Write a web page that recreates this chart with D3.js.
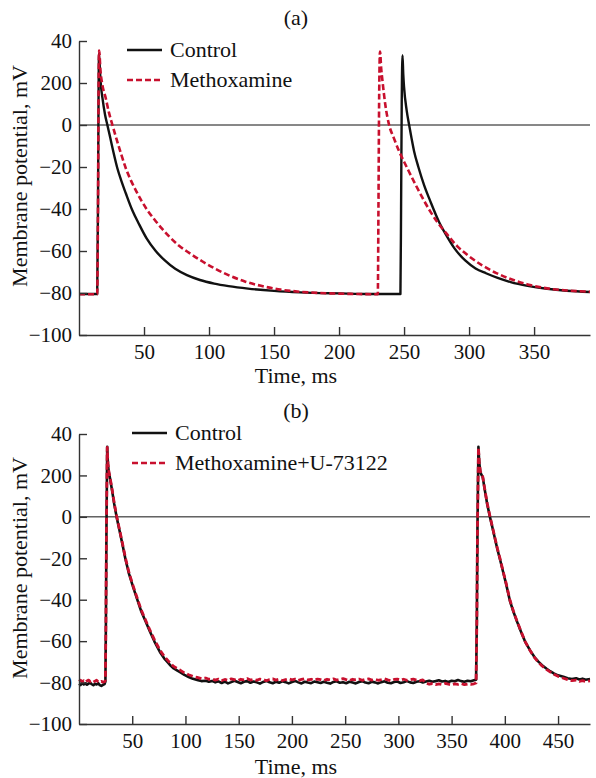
<!DOCTYPE html>
<html>
<head>
<meta charset="utf-8">
<script src="https://cdn.jsdelivr.net/npm/d3@7"></script>
<style>
body { margin: 0; background: #fff; }
svg text { font-family: "Liberation Serif", "Times New Roman", serif; fill: #111; }
</style>
</head>
<body>
<div id="chart"></div>
<script>
// y ticks are shared by both panels ("200" is printed that way in the original)
var yTicks = [40, 20, 0, -20, -40, -60, -80, -100];
var yTickLabels = ["40", "200", "0", "\u221220", "\u221240", "\u221260", "\u221280", "\u2212100"];
var xTicksA = [50, 100, 150, 200, 250, 300, 350];
var xTicksB = [50, 100, 150, 200, 250, 300, 350, 400, 450];

var legendA = ["Control", "Methoxamine"];
var legendB = ["Control", "Methoxamine+U-73122"];

// panel (a): [time ms, potential mV]
var controlA = [
  [0,-80.5],[14.0,-80.5],[14.6,-40],[15.0,10],[15.4,34],[16.2,25],[17,18],[18,13],[20,5],[21.8,0],
  [24,-6],[26.5,-13],[29.5,-20.6],[32.5,-26.5],[36,-32.5],[41,-40.6],[46,-47],[52,-54],[59,-60],
  [66,-64.5],[74,-68.5],[83,-71.5],[93,-73.8],[104,-75.5],[115,-76.7],[130,-77.9],[150,-79],
  [170,-79.7],[200,-80.2],[225,-80.5],[247.2,-80.5],[247.7,-40],[248.2,10],[248.8,33.2],[249.4,24],
  [250,18],[252,7],[253.9,0],[255.8,-6.5],[257.7,-12.5],[261,-20],[265.4,-28.6],[270,-36],[277,-46.3],
  [282,-52],[288.5,-58.5],[297,-64.5],[305,-68.3],[313,-70.6],[322,-72.8],[332,-74.8],[345,-76.6],
  [360,-78],[375,-78.9],[393,-79.5]
];
var methoxA = [
  [0,-80.6],[14.0,-80.6],[14.6,-40],[15.0,10],[15.5,35.5],[16.5,26],[18,19],[20.5,13],[23,6],[25.7,0],
  [29,-7],[32.5,-14],[36,-20.6],[40,-26.5],[44,-31.5],[48,-36],[52.6,-40.6],[58,-45],[64,-49.5],
  [70,-53.5],[77,-57.5],[85,-61],[95,-65],[105,-68.5],[116,-71.8],[128,-74.6],[140,-76.6],[155,-78.4],
  [170,-79.4],[185,-80],[200,-80.3],[215,-80.5],[229.8,-80.6],[230.3,-40],[230.8,10],[231.5,35],
  [232.4,27],[233.4,21],[235.5,10],[238.5,0],[242,-6],[246.2,-12.5],[250,-17.5],[254,-22.5],
  [259,-28.6],[264,-34.5],[270,-41],[275.7,-46.3],[283,-52],[291,-57.8],[300,-62.5],[310,-66.8],
  [321,-70.5],[333,-73.6],[345,-75.9],[360,-77.8],[375,-78.8],[393,-79.4]
];

// panel (b)
var controlB = [
  [0,-80.6],[1.5,-81.2],[3,-80.2],[4.5,-80.9],[6,-80.4],[7.5,-81],[9,-80.5],[10.5,-80.1],[12,-80.8],
  [13.5,-81.3],[15,-80.6],[16.5,-80.9],[18,-80.3],[19.5,-81.2],[21,-81.6],[22.5,-81.1],[24,-80.7],
  [24.8,-79.5],[25.3,-50],[25.8,-5],[26.5,33.8],[27.2,25.5],[28,21.5],[29,19],[31,13],[33,6.5],
  [35.3,0],[38,-6.5],[40.5,-12.5],[43.7,-20.6],[47,-27.5],[51,-34.2],[55.3,-40.8],[58.5,-45.7],
  [62.5,-50.4],[66.5,-55.2],[70.9,-60.2],[76,-65.2],[80,-68.3],[83.4,-70.3],[86,-71.8],[89,-73.2],
  [92,-74.1],[95.3,-75.1],[99,-76.3],[103,-77.3],[107,-78.2],[111,-78.7],[115,-79.3],[119,-79.1],
  [122,-79.6],[125,-79.2],[128,-79.9],[131,-79.4],[134,-80.2],[137,-79.5],[140,-80.4],[143,-79.8],
  [146,-79.1],[149,-79.7],[152,-80.3],[155,-79.6],[158,-79.3],[161,-80.1],[164,-79.5],[167,-79.9],
  [170,-80.5],[173,-79.7],[176,-79.2],[179,-79.9],[182,-80.3],[185,-79.6],[188,-80.1],[191,-79.4],
  [194,-79.8],[197,-80.4],[200,-79.7],[203,-79.2],[206,-79.9],[209,-80.4],[212,-79.6],[215,-80],
  [218,-80.3],[221,-79.5],[224,-79.8],[227,-80.2],[230,-79.6],[233,-80.1],[236,-80.5],[239,-79.7],
  [242,-79.4],[245,-80.1],[248,-79.8],[251,-80.3],[254,-79.6],[257,-80],[260,-80.4],[263,-79.7],
  [266,-79.3],[269,-80],[272,-80.3],[275,-79.6],[278,-79.9],[281,-80.4],[284,-79.8],[287,-79.4],
  [290,-80.1],[293,-80.3],[296,-79.7],[299,-79.5],[302,-80.2],[305,-79.8],[308,-79.3],[311,-79.9],
  [314,-80.2],[317,-79.6],[320,-79.4],[323,-80],[326,-79.5],[329,-79.1],[332,-79.6],[335,-79.3],
  [338,-78.9],[341,-79.5],[344,-79.2],[347,-79.7],[350,-79.1],[353,-79.4],[356,-78.8],[359,-79.3],
  [362,-79.6],[365,-79.1],[368,-79.4],[371,-78.9],[373,-78.6],[373.7,-50],[374.3,-5],[375.2,33.8],
  [376,26],[377,21.5],[379.3,19],[381,13.5],[383.5,6],[386,0],[388.5,-5.5],[391,-11.2],[393,-15.6],
  [395.5,-20.6],[398,-25.8],[401,-32],[404.9,-40.8],[408,-45.7],[411.2,-50.2],[415,-55.2],[419,-60.2],
  [424,-64.7],[428,-67.8],[431.5,-69.9],[435,-71.6],[439,-73.2],[442.5,-74.5],[446,-75.6],[450,-76.5],
  [455,-77.2],[459,-77.9],[463,-78.3],[467,-77.9],[470,-78.5],[473,-78.1],[476,-78.6],[480,-78.3]
];
var methoxUB = [
  [0,-79.4],[1.5,-78.9],[3,-79.6],[4.5,-79.1],[6,-79.8],[7.5,-79.2],[9,-78.8],[10.5,-79.5],[12,-79.1],
  [13.5,-79.7],[15,-79.3],[16.5,-78.9],[18,-79.6],[19.5,-79.9],[21,-79.4],[22.5,-79.8],[24,-79.6],
  [24.8,-78.8],[25.3,-49],[25.8,-4],[26.5,33.5],[27.2,25.8],[28,22],[29,19.4],[31,13.6],[33,7],
  [35.3,0.5],[38,-6],[40.5,-12],[43.7,-20],[47,-27],[51,-33.6],[55.3,-40.2],[58.5,-45],[62.5,-49.8],
  [66.5,-54.5],[70.9,-59.4],[76,-64.3],[80,-67.3],[83.4,-69.3],[86,-70.8],[89,-72.2],[92,-73.2],
  [95.3,-74.1],[99,-75.3],[103,-76.2],[107,-77],[111,-77.5],[115,-78.1],[119,-77.8],[122,-78.4],
  [125,-78.2],[128,-78.8],[131,-78.3],[134,-79],[137,-78.5],[140,-78.9],[143,-78.2],[146,-78.6],
  [149,-79.1],[152,-78.4],[155,-78.7],[158,-78.1],[161,-78.8],[164,-78.4],[167,-78.9],[170,-78.3],
  [173,-78.6],[176,-79.1],[179,-78.5],[182,-78.2],[185,-78.8],[188,-78.4],[191,-79],[194,-78.6],
  [197,-78.2],[200,-78.7],[203,-78.3],[206,-78.9],[209,-78.5],[212,-78.1],[215,-78.7],[218,-78.4],
  [221,-78.9],[224,-78.3],[227,-78.6],[230,-79],[233,-78.4],[236,-78.7],[239,-78.2],[242,-78.8],
  [245,-78.5],[248,-78.1],[251,-78.6],[254,-79],[257,-78.4],[260,-78.7],[263,-78.3],[266,-78.9],
  [269,-78.5],[272,-78.2],[275,-78.8],[278,-78.4],[281,-78.9],[284,-78.6],[287,-78.2],[290,-78.7],
  [293,-79.1],[296,-78.5],[299,-78.3],[302,-78.8],[305,-78.4],[308,-78.9],[311,-78.6],[314,-78.3],
  [317,-78.8],[320,-79.1],[323,-78.7],[326,-80.2],[329,-80.8],[332,-80.5],[335,-81],[338,-80.6],
  [341,-80.9],[344,-80.4],[347,-80.8],[350,-81.1],[353,-80.6],[356,-80.9],[359,-80.5],[362,-81],
  [365,-80.7],[368,-80.9],[371,-80.6],[373,-80.2],[373.7,-51],[374.3,-6],[375.2,33.5],[376,26.3],
  [377,22],[379.3,19.3],[381,13.8],[383.5,6.4],[386,0.4],[388.5,-5.2],[391,-10.8],[393,-15.2],
  [395.5,-20.2],[398,-25.4],[401,-31.6],[404.9,-40.4],[408,-45.4],[411.2,-50],[415,-55],[419,-60.1],
  [424,-64.8],[428,-68],[431.5,-70.2],[435,-72],[439,-73.6],[442.5,-74.8],[446,-76],[450,-77],
  [455,-77.9],[459,-78.6],[463,-79.1],[467,-78.8],[470,-79.4],[473,-79.1],[476,-79.5],[480,-79.2]
];

var RED = "#c8102e";
var INK = "#111";
var FONT = "'Liberation Serif', 'Times New Roman', serif";

var svg = d3.select("#chart").append("svg")
    .attr("width", 596).attr("height", 778)
    .style("background", "#fff");

function drawPanel(p) {
    var x = d3.scaleLinear().domain(p.xDomain).range([p.left, p.right]);
    var y = d3.scaleLinear().domain([-100, 40]).range([p.bottom, p.top]);
    var g = svg.append("g");

    // zero line
    g.append("line")
        .attr("x1", x(p.xDomain[0])).attr("x2", x(p.xDomain[1]))
        .attr("y1", y(0)).attr("y2", y(0))
        .attr("stroke", INK).attr("stroke-width", 1);

    var line = d3.line()
        .x(function(d) { return x(d[0]); })
        .y(function(d) { return y(d[1]); })
        .curve(p.curve);

    g.append("path").datum(p.ctrl)
        .attr("d", line).attr("fill", "none")
        .attr("stroke", INK).attr("stroke-width", p.width)
        .attr("stroke-linejoin", "round");
    g.append("path").datum(p.drug)
        .attr("d", line).attr("fill", "none")
        .attr("stroke", RED).attr("stroke-width", p.width + 0.2)
        .attr("stroke-dasharray", "6,3")
        .attr("stroke-linejoin", "round");

    var ya = g.append("g")
        .attr("transform", "translate(" + p.left + ",0)")
        .call(d3.axisLeft(y).tickValues(yTicks)
            .tickFormat(function(d, i) { return yTickLabels[i]; })
            .tickSizeInner(-8).tickSizeOuter(0).tickPadding(7));
    var xa = g.append("g")
        .attr("transform", "translate(0," + p.bottom + ")")
        .call(d3.axisBottom(x).tickValues(p.xTicks)
            .tickSizeInner(-8).tickSizeOuter(0).tickPadding(9));
    [ya, xa].forEach(function(a) {
        a.attr("font-size", 21).attr("font-family", FONT);
        a.selectAll("path, line").attr("stroke", "#333").attr("stroke-width", 1.4);
        a.selectAll("text").attr("fill", INK);
    });

    // legend
    var lg = g.append("g");
    lg.append("line").attr("x1", p.legX).attr("x2", p.legX + 35)
        .attr("y1", p.legY).attr("y2", p.legY)
        .attr("stroke", INK).attr("stroke-width", 2.5);
    lg.append("line").attr("x1", p.legX).attr("x2", p.legX + 35)
        .attr("y1", p.legY + 30).attr("y2", p.legY + 30)
        .attr("stroke", RED).attr("stroke-width", 2.5).attr("stroke-dasharray", "6,3");
    lg.selectAll("text").data(p.legend).enter().append("text")
        .attr("x", p.legX + 43)
        .attr("y", function(d, i) { return p.legY + 7 + i * 30; })
        .attr("font-size", 22)
        .text(function(d) { return d; });

    g.append("text").attr("x", 296).attr("y", p.titleY)
        .attr("text-anchor", "middle").attr("font-size", 22).text(p.title);
    g.append("text").attr("x", 296).attr("y", p.xLabelY)
        .attr("text-anchor", "middle").attr("font-size", 22).text("Time, ms");
    g.append("text")
        .attr("transform", "translate(27," + p.yLabelMid + ") rotate(-90)")
        .attr("text-anchor", "middle").attr("font-size", 22)
        .text("Membrane potential, mV");
}

drawPanel({
    title: "(a)", titleY: 25, xLabelY: 383, yLabelMid: 176,
    left: 79, right: 590, top: 41, bottom: 335,
    xDomain: [0, 393], xTicks: xTicksA,
    ctrl: controlA, drug: methoxA, curve: d3.curveMonotoneX, width: 2.4,
    legend: legendA, legX: 127, legY: 50
});
drawPanel({
    title: "(b)", titleY: 418, xLabelY: 774, yLabelMid: 568,
    left: 79, right: 590, top: 434, bottom: 724,
    xDomain: [0, 480], xTicks: xTicksB,
    ctrl: controlB, drug: methoxUB, curve: d3.curveLinear, width: 2.6,
    legend: legendB, legX: 132, legY: 433
});
</script>
</body>
</html>
